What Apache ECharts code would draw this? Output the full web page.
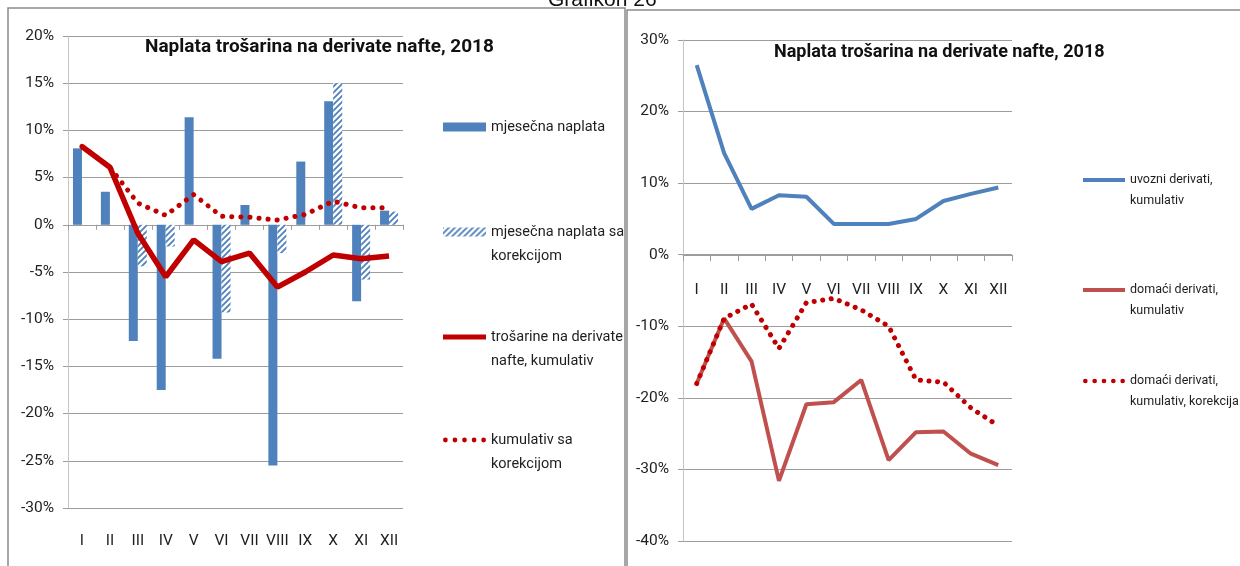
<!DOCTYPE html>
<html>
<head>
<meta charset="utf-8">
<script src="https://cdn.jsdelivr.net/npm/echarts@6/dist/echarts.min.js"></script>
<style>
  html, body { margin: 0; padding: 0; background: #fff; }
  #wrap { position: relative; width: 1240px; height: 566px; overflow: hidden; }
  #main1 { position: absolute; left: 0; top: 0; width: 626px; height: 566px; }
  #main2 { position: absolute; left: 626px; top: 0; width: 614px; height: 566px; }
  #naslov { position: absolute; left: 548px; top: -13px; font: 21px 'Liberation Sans', sans-serif; color: #111; z-index: 5; }
</style>
</head>
<body>
<div id="wrap">
  <div id="main1"></div>
  <div id="main2"></div>
  <div id="naslov">Grafikon 26</div>
</div>
<script>
var months = ['I', 'II', 'III', 'IV', 'V', 'VI', 'VII', 'VIII', 'IX', 'X', 'XI', 'XII'];

// lijevi grafikon
var monthly = [8.1, 3.5, -12.3, -17.5, 11.4, -14.2, 2.1, -25.5, 6.7, 13.1, -8.1, 1.5];
var monthlyCorr = [null, null, -4.4, -2.3, null, -9.3, null, -3.0, null, 15.0, -5.8, 1.4];
var cumulative = [8.3, 6.1, -0.9, -5.5, -1.6, -3.9, -3.0, -6.6, -5.0, -3.2, -3.6, -3.3];
var cumulativeCorr = [8.3, 6.1, 2.3, 1.0, 3.2, 0.9, 0.8, 0.5, 1.1, 2.5, 1.8, 1.8];

// desni grafikon
var imported = [26.5, 14.2, 6.4, 8.3, 8.1, 4.3, 4.3, 4.3, 5.0, 7.5, 8.5, 9.4];
var domestic = [-18.0, -8.9, -14.9, -31.6, -20.9, -20.6, -17.5, -28.7, -24.8, -24.7, -27.8, -29.4];
var domesticCorr = [-18.0, -8.9, -6.9, -13.1, -6.7, -6.1, -7.7, -10.0, -17.5, -17.8, -21.4, -23.9];

var FONT = "Roboto, 'Liberation Sans', sans-serif";
var BLUE = '#4F81BD';
var DARKRED = '#C00000';
var RED = '#C0504D';
var GRID = '#9c9c9c';
var TEXT = '#1e1e1e';
var DOTS = 'path://M0,2.5A2.5,2.5,0,1,1,5,2.5A2.5,2.5,0,1,1,0,2.5Z' +
    'M10,2.5A2.5,2.5,0,1,1,15,2.5A2.5,2.5,0,1,1,10,2.5Z' +
    'M20,2.5A2.5,2.5,0,1,1,25,2.5A2.5,2.5,0,1,1,20,2.5Z' +
    'M30,2.5A2.5,2.5,0,1,1,35,2.5A2.5,2.5,0,1,1,30,2.5Z' +
    'M40,2.5A2.5,2.5,0,1,1,45,2.5A2.5,2.5,0,1,1,40,2.5Z';

// srafura za korekciju
function makeHatch() {
    var c = document.createElement('canvas');
    c.width = 6;
    c.height = 6;
    var ctx = c.getContext('2d');
    ctx.fillStyle = '#fff';
    ctx.fillRect(0, 0, 6, 6);
    ctx.strokeStyle = BLUE;
    ctx.lineWidth = 1.8;
    ctx.beginPath();
    ctx.moveTo(-1, 7); ctx.lineTo(7, -1);
    ctx.moveTo(-1, 1); ctx.lineTo(1, -1);
    ctx.moveTo(5, 7); ctx.lineTo(7, 5);
    ctx.stroke();
    return c;
}
var hatch = { image: makeHatch(), repeat: 'repeat' };

// jedna stavka legende; u dva reda ikona ide uz prvi red
function legendItem(name, icon, left, firstLineY, lineH, fontSize, itemW, itemH) {
    var twoLines = name.indexOf('|') >= 0;
    return {
        data: [{ name: name, icon: icon }],
        orient: 'vertical',
        left: left,
        top: twoLines ? firstLineY - lineH * 1.5 : firstLineY - lineH / 2,
        padding: 0,
        itemWidth: itemW,
        itemHeight: itemH,
        selectedMode: false,
        formatter: function (n) {
            return n.indexOf('|') >= 0 ? '\n' + n.replace('|', '\n') : n;
        },
        textStyle: {
            fontFamily: FONT,
            fontSize: fontSize,
            color: TEXT,
            lineHeight: lineH
        }
    };
}

function yAxisBase(min, max, interval) {
    return {
        type: 'value',
        min: min,
        max: max,
        interval: interval,
        axisLine: { show: true, lineStyle: { color: '#c4c4c4', width: 1 } },
        axisTick: { show: true, length: 5, lineStyle: { color: GRID } },
        splitLine: { lineStyle: { color: GRID, width: 1 } },
        axisLabel: {
            formatter: '{value}%',
            fontFamily: FONT,
            fontSize: 15.5,
            color: TEXT,
            margin: 14
        }
    };
}

var myChart1 = echarts.init(document.getElementById('main1'));
var option1 = {
    animation: false,
    title: {
        text: 'Naplata trošarina na derivate nafte, 2018',
        left: 145,
        top: 38,
        padding: 0,
        textStyle: { fontFamily: FONT, fontWeight: 'bold', fontSize: 19, color: '#111' }
    },
    graphic: [
        {
            type: 'rect',
            shape: { x: 8, y: 8, width: 617, height: 620 },
            style: { fill: 'none', stroke: '#8a8a8a', lineWidth: 1.5 },
            silent: true
        }
    ],
    legend: [
        legendItem('mjesečna naplata', 'rect', 443, 127, 24, 14.5, 43, 9),
        legendItem('mjesečna naplata sa|korekcijom', 'rect', 443, 232, 24, 14.5, 43, 9),
        legendItem('trošarine na derivate|nafte, kumulativ', 'rect', 443, 337, 24, 14.5, 43, 5),
        legendItem('kumulativ sa|korekcijom', DOTS, 443, 440, 24, 14.5, 43, 5)
    ],
    grid: { left: 68, top: 36, width: 335, height: 472 },
    xAxis: [
        {
            // oznake mjeseci na dnu
            type: 'category',
            data: months,
            position: 'bottom',
            axisLine: { show: false, onZero: false },
            axisTick: { show: false },
            axisLabel: { interval: 0, fontFamily: FONT, fontSize: 15.5, color: TEXT, margin: 25 }
        },
        {
            // linija na nuli
            type: 'category',
            data: months,
            position: 'top',
            axisLine: { show: true, onZero: true, lineStyle: { color: GRID, width: 1 } },
            axisTick: { show: true, inside: true, length: 5, lineStyle: { color: GRID } },
            axisLabel: { show: false }
        }
    ],
    yAxis: yAxisBase(-30, 20, 5),
    series: [
        {
            name: 'mjesečna naplata',
            type: 'bar',
            xAxisIndex: 0,
            barWidth: 9,
            barGap: '0%',
            itemStyle: { color: BLUE },
            data: monthly
        },
        {
            name: 'mjesečna naplata sa|korekcijom',
            type: 'bar',
            xAxisIndex: 0,
            barWidth: 9,
            barGap: '0%',
            itemStyle: { color: hatch },
            data: monthlyCorr
        },
        {
            name: 'kumulativ sa|korekcijom',
            type: 'line',
            xAxisIndex: 0,
            symbol: 'none',
            lineStyle: { color: DARKRED, width: 5, type: [0.1, 9], cap: 'round' },
            itemStyle: { color: DARKRED },
            z: 3,
            data: cumulativeCorr
        },
        {
            name: 'trošarine na derivate|nafte, kumulativ',
            type: 'line',
            xAxisIndex: 0,
            symbol: 'none',
            lineStyle: { color: DARKRED, width: 5.5 },
            itemStyle: { color: DARKRED },
            z: 4,
            data: cumulative
        }
    ]
};
myChart1.setOption(option1);

var myChart2 = echarts.init(document.getElementById('main2'));
var option2 = {
    animation: false,
    title: {
        text: 'Naplata trošarina na derivate nafte, 2018',
        left: 148,
        top: 43,
        padding: 0,
        textStyle: { fontFamily: FONT, fontWeight: 'bold', fontSize: 18, color: '#111' }
    },
    graphic: [
        {
            type: 'rect',
            shape: { x: 1, y: 10, width: 640, height: 620 },
            style: { fill: 'none', stroke: '#8a8a8a', lineWidth: 1.5 },
            silent: true
        }
    ],
    legend: [
        legendItem('uvozni derivati,|kumulativ', 'rect', 457, 180, 21, 12.5, 42, 4),
        legendItem('domaći derivati,|kumulativ', 'rect', 457, 290, 21, 12.5, 42, 4),
        legendItem('domaći derivati,|kumulativ, korekcija', DOTS, 457, 381, 21, 12.5, 42, 5)
    ],
    grid: { left: 57, top: 40, width: 329, height: 501 },
    xAxis: {
        // os pomaknuta na 0% (od dna mreže do nule)
        type: 'category',
        data: months,
        position: 'bottom',
        offset: -286,
        axisLine: { show: true, onZero: false, lineStyle: { color: GRID, width: 1 } },
        axisTick: { show: true, length: 6, lineStyle: { color: GRID } },
        axisLabel: { interval: 0, fontFamily: FONT, fontSize: 15.5, color: TEXT, margin: 27 }
    },
    yAxis: yAxisBase(-40, 30, 10),
    series: [
        {
            name: 'uvozni derivati,|kumulativ',
            type: 'line',
            symbol: 'none',
            lineStyle: { color: BLUE, width: 4 },
            itemStyle: { color: BLUE },
            data: imported
        },
        {
            name: 'domaći derivati,|kumulativ',
            type: 'line',
            symbol: 'none',
            lineStyle: { color: RED, width: 4 },
            itemStyle: { color: RED },
            data: domestic
        },
        {
            name: 'domaći derivati,|kumulativ, korekcija',
            type: 'line',
            symbol: 'none',
            lineStyle: { color: DARKRED, width: 5, type: [0.1, 8.5], cap: 'round' },
            itemStyle: { color: DARKRED },
            data: domesticCorr
        }
    ]
};
myChart2.setOption(option2);
</script>
</body>
</html>
